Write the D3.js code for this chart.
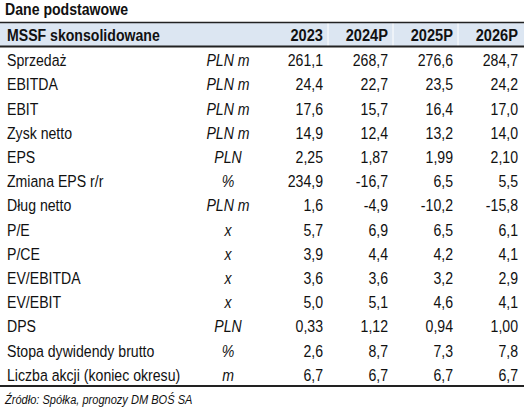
<!DOCTYPE html>
<html><head><meta charset="utf-8">
<script src="https://cdn.jsdelivr.net/npm/d3@7"></script>
<style>body{margin:0;background:#fff}svg{display:block}</style>
</head><body>
<script>
const title = "Dane podstawowe";
const headerLabel = "MSSF skonsolidowane";
const years = ["2023","2024P","2025P","2026P"];
const rowLabels = ["Sprzedaż","EBITDA","EBIT","Zysk netto","EPS","Zmiana EPS r/r","Dług netto","P/E","P/CE","EV/EBITDA","EV/EBIT","DPS","Stopa dywidendy brutto","Liczba akcji (koniec okresu)"];
const units = ["PLN m","PLN m","PLN m","PLN m","PLN","%","PLN m","x","x","x","x","PLN","%","m"];
const v2023 = ["261,1","24,4","17,6","14,9","2,25","234,9","1,6","5,7","3,9","3,6","5,0","0,33","2,6","6,7"];
const v2024 = ["268,7","22,7","15,7","12,4","1,87","-16,7","-4,9","6,9","4,4","3,6","5,1","1,12","8,7","6,7"];
const v2025 = ["276,6","23,5","16,4","13,2","1,99","6,5","-10,2","6,5","4,2","3,2","4,6","0,94","7,3","6,7"];
const v2026 = ["284,7","24,2","17,0","14,0","2,10","5,5","-15,8","6,1","4,1","2,9","4,1","1,00","7,8","6,7"];
const source = "Źródło: Spółka, prognozy DM BOŚ SA";

const W = 531, H = 412;
const SX = 0.83;
const font = "'Liberation Sans',Arial,sans-serif";
const svg = d3.select("body").append("svg").attr("width", W).attr("height", H)
  .style("font-family", font);

function tx(sel, x, yy, sx) {
  return sel.attr("transform", `translate(${x},${yy}) scale(${sx || SX},1)`);
}

const cols = [v2023, v2024, v2025, v2026];
const colRight = d3.scalePoint().domain(years).range([323, 518]);
const y = d3.scaleBand().domain(d3.range(rowLabels.length)).range([48, 387]).paddingInner(0);

tx(svg.append("text"), 5, 15).attr("font-weight", "bold")
  .attr("font-size", 17).attr("fill", "#111").text(title);

// header band
svg.append("rect").attr("x", 0).attr("y", 22.5).attr("width", 524).attr("height", 24).attr("fill", "#dce6f2");
[328, 393, 458].forEach(x => svg.append("line").attr("x1", x).attr("x2", x).attr("y1", 23).attr("y2", 46)
  .attr("stroke", "#fff").attr("stroke-width", 1));
svg.append("line").attr("x1", 0).attr("x2", 524).attr("y1", 22.5).attr("y2", 22.5).attr("stroke", "#222").attr("stroke-width", 1.5);
svg.append("line").attr("x1", 0).attr("x2", 524).attr("y1", 46.5).attr("y2", 46.5).attr("stroke", "#222").attr("stroke-width", 2);

tx(svg.append("text"), 7, 41).attr("font-weight", "bold").attr("font-size", 17)
  .attr("fill", "#111").text(headerLabel);
svg.selectAll("text.yr").data(years).join("text").attr("class", "yr")
  .attr("transform", d => `translate(${colRight(d)},41) scale(0.86,1)`).attr("text-anchor", "end")
  .attr("font-weight", "bold").attr("font-size", 17).attr("fill", "#111").text(d => d);

const rows = svg.selectAll("g.row").data(rowLabels).join("g").attr("class", "row")
  .attr("transform", (d, i) => `translate(0,${y(i) + y.bandwidth() / 2 + 6})`);
rows.append("text").attr("transform", `translate(7,0) scale(${SX},1)`).attr("font-size", 17).attr("fill", "#111").text(d => d);
rows.append("text").attr("transform", `translate(228,0) scale(${SX},1)`).attr("text-anchor", "middle").attr("font-style", "italic")
  .attr("font-size", 17).attr("fill", "#111").text((d, i) => units[i]);
years.forEach((yr, c) => {
  rows.append("text").attr("transform", `translate(${colRight(yr)},0) scale(${SX},1)`).attr("text-anchor", "end")
    .attr("font-size", 17).attr("fill", "#111").text((d, i) => cols[c][i]);
});

svg.append("line").attr("x1", 0).attr("x2", 524).attr("y1", 386).attr("y2", 386).attr("stroke", "#222").attr("stroke-width", 2);
tx(svg.append("text"), 5, 404, 0.82).attr("font-style", "italic").attr("font-size", 13.5)
  .attr("fill", "#111").text(source);
</script>
</body></html>
